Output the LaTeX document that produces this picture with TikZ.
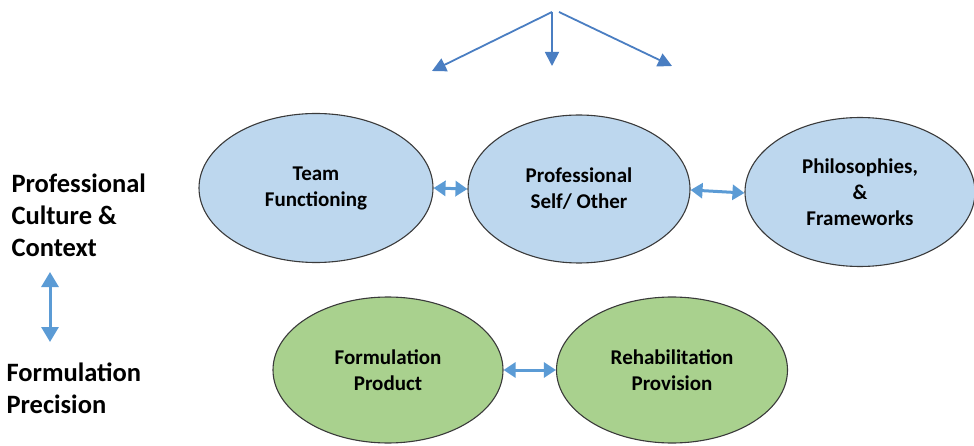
\documentclass[tikz,border=0pt]{standalone}
\usepackage{fontspec}
\setmainfont{Carlito}
\usetikzlibrary{shapes.geometric,arrows.meta}
\definecolor{ovalblue}{HTML}{BDD7EE}
\definecolor{ovalgreen}{HTML}{A9D18E}
\definecolor{ovalline}{HTML}{3A3A3A}
\definecolor{linkblue}{HTML}{5B9BD5}
\definecolor{topblue}{HTML}{4A7EC2}
\begin{document}
\begin{tikzpicture}[x=1pt,y=-1pt,
  oval/.style={ellipse,draw=ovalline,line width=1.1pt,inner sep=0pt,
    align=center,font=\bfseries\fontsize{21}{26}\selectfont},
  blueoval/.style={oval,fill=ovalblue},
  greenoval/.style={oval,fill=ovalgreen},
  sidelabel/.style={anchor=west,align=left,font=\bfseries\fontsize{26.5}{32}\selectfont},
  link/.style={draw=linkblue,line width=3pt,{Triangle[length=12pt,width=15pt]}-{Triangle[length=12pt,width=15pt]}},
  biglink/.style={draw=linkblue,line width=3pt,{Triangle[length=15pt,width=17pt]}-{Triangle[length=15pt,width=17pt]}},
  spread/.style={draw=topblue,line width=1.8pt,-{Triangle[length=14pt,width=14pt]}}]
\useasboundingbox (0,0) rectangle (974,446);

% upper row: professional culture
\node[blueoval,minimum width=234pt,minimum height=149pt] (team) at (316,188) {Team\\Functioning};
\node[blueoval,minimum width=222pt,minimum height=148pt] (prof) at (579,189) {Professional\\Self/ Other};
\node[blueoval,minimum width=230pt,minimum height=149pt] (phil) at (860,192) {Philosophies,\\\&\\Frameworks};

% lower row: formulation
\node[greenoval,minimum width=230pt,minimum height=146pt] (form) at (388,370) {Formulation\\Product};
\node[greenoval,minimum width=231pt,minimum height=146pt] (rehab) at (672,370) {Rehabilitation\\Provision};

% links between neighbouring ovals
\draw[link] (team.east) -- (prof.west);
\draw[link] ([yshift=-1pt]prof.east) -- ([yshift=-1pt]phil.west);
\draw[link] (form.east) -- (rehab.west);

% side labels
\node[sidelabel] (culture) at (8,215) {Professional\\Culture \&\\Context};
\node[sidelabel] (precision) at (3,388) {Formulation\\Precision};
\coordinate (upend) at (50,272);
\coordinate (downend) at (50,342);
\draw[biglink] (upend) -- (downend);

% spreading arrows at the top
\coordinate (srcL) at (552,12);
\coordinate (srcR) at (559,12);
\coordinate (tipL) at (432,71);
\coordinate (tipM) at (552,66);
\coordinate (tipR) at (672,66);
\draw[spread] (srcL) -- (tipL);
\draw[spread] (srcL) -- (tipM);
\draw[spread] (srcR) -- (tipR);
\end{tikzpicture}
\end{document}
